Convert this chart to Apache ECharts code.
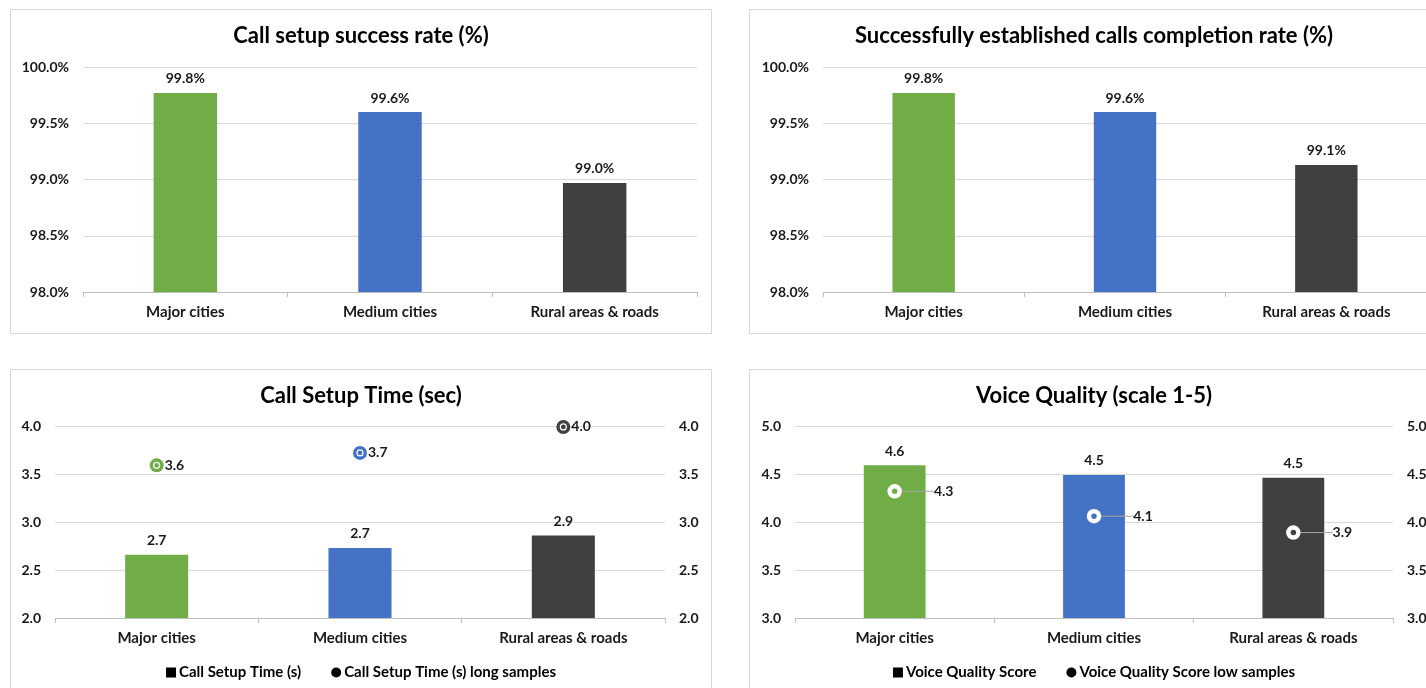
<!DOCTYPE html>
<html>
<head>
<meta charset="utf-8">
<script src="https://cdn.jsdelivr.net/npm/echarts@6/dist/echarts.min.js"></script>
<style>
  html, body { margin: 0; padding: 0; background: #fff; }
  body { width: 1426px; height: 688px; position: relative; overflow: hidden; }
  .panel { position: absolute; border: 1px solid #d9d9d9; box-sizing: border-box; background: #fff; }
  #p1 { left: 10px; top: 9px; width: 702px; height: 325px; }
  #p2 { left: 749px; top: 9px; width: 690px; height: 325px; }
  #p3 { left: 10px; top: 369px; width: 702px; height: 330px; }
  #p4 { left: 749px; top: 369px; width: 690px; height: 330px; }
</style>
</head>
<body>
<div id="p1" class="panel"></div>
<div id="p2" class="panel"></div>
<div id="p3" class="panel"></div>
<div id="p4" class="panel"></div>
<script>
// data
const categories = ['Major cities', 'Medium cities', 'Rural areas & roads']
const barColors = ['#70ad47', '#4472c4', '#404040']
const setupSuccess = [99.77, 99.6, 98.97]
const completionRate = [99.77, 99.6, 99.13]
const setupTime = [2.66, 2.73, 2.86]
const setupTimeLong = [3.59, 3.72, 3.99]
const voiceScore = [4.59, 4.49, 4.46]
const voiceLow = [4.32, 4.06, 3.89]

const FONT = 'Lato'
const txt = { fontFamily: FONT, fontWeight: 'bold', fontSize: 14, color: '#1a1a1a' }

function colored(values) {
  return values.map((v, i) => ({ value: v, itemStyle: { color: barColors[i], opacity: 1 } }))
}

function baseOption(title, grid) {
  return {
    animation: false,
    title: {
      text: title,
      left: 'center',
      top: 10,
      textStyle: { fontFamily: FONT, fontWeight: 'bold', fontSize: 22, color: '#000' }
    },
    grid: grid,
    xAxis: {
      type: 'category',
      data: categories,
      axisLine: { lineStyle: { color: '#bfbfbf' } },
      axisTick: { show: true, length: 5, lineStyle: { color: '#bfbfbf' } },
      axisLabel: Object.assign({}, txt, { margin: 13, fontSize: 15 })
    }
  }
}

function valueAxis(min, max, fmt, pos, grid) {
  return {
    type: 'value',
    position: pos,
    min: min,
    max: max,
    interval: 0.5,
    axisLine: { show: false },
    axisTick: { show: false },
    splitLine: { show: grid, lineStyle: { color: '#d9d9d9' } },
    axisLabel: Object.assign({ margin: 14, formatter: fmt }, txt)
  }
}

function pctChart(el, title, values, grid) {
  const chart = echarts.init(document.getElementById(el))
  const opt = baseOption(title, grid)
  opt.yAxis = valueAxis(98, 100, v => v.toFixed(1) + '%', 'left', true)
  opt.series = [{
    type: 'bar',
    barWidth: '31%',
    data: colored(values),
    label: Object.assign({ show: true, position: 'top', distance: 7, formatter: p => p.value.toFixed(1) + '%' }, txt)
  }]
  chart.setOption(opt)
  return chart
}

function legendBlock() {
  return {
    bottom: 13,
    left: 'center',
    itemWidth: 10,
    itemHeight: 10,
    itemGap: 30,
    textStyle: Object.assign({}, txt, { fontSize: 15, color: '#000', padding: [0, 0, 0, -2] })
  }
}

const c1 = pctChart('p1', 'Call setup success rate (%)', setupSuccess, { left: 72, right: 14, top: 57, bottom: 41 })
const c2 = pctChart('p2', 'Successfully established calls completion rate (%)', completionRate, { left: 73, right: 11, top: 57, bottom: 41 })

// Call setup time
const c3 = echarts.init(document.getElementById('p3'))
let o3 = baseOption('Call Setup Time (sec)', { left: 44, right: 46, top: 56, bottom: 80 })
o3.yAxis = [
  valueAxis(2, 4, v => v.toFixed(1), 'left', true),
  valueAxis(2, 4, v => v.toFixed(1), 'right', false)
]
o3.legend = Object.assign(legendBlock(), {
  data: [
    { name: 'Call Setup Time (s)', icon: 'rect' },
    { name: 'Call Setup Time (s) long samples', icon: 'circle' }
  ]
})
o3.series = [
  {
    name: 'Call Setup Time (s)',
    type: 'bar',
    barWidth: '31%',
    itemStyle: { color: '#000' },
    data: colored(setupTime),
    label: Object.assign({ show: true, position: 'top', distance: 7, formatter: p => p.value.toFixed(1) }, txt)
  },
  {
    name: 'Call Setup Time (s) long samples',
    type: 'scatter',
    symbol: 'circle',
    symbolSize: 14,
    itemStyle: { color: '#000', opacity: 1 },
    data: colored(setupTimeLong),
    label: Object.assign({ show: true, position: 'right', distance: 1, formatter: p => p.value.toFixed(1) }, txt),
    z: 3
  },
  {
    name: 'inner',
    type: 'scatter',
    symbol: 'circle',
    symbolSize: 6,
    silent: true,
    data: setupTimeLong.map((v, i) => ({ value: v, itemStyle: { color: barColors[i], opacity: 1, borderColor: '#fff', borderWidth: 1.2 } })),
    z: 4
  }
]
c3.setOption(o3)

// Voice quality
const c4 = echarts.init(document.getElementById('p4'))
let o4 = baseOption('Voice Quality (scale 1-5)', { left: 45, right: 45, top: 56, bottom: 80 })
o4.yAxis = [
  valueAxis(3, 5, v => v.toFixed(1), 'left', true),
  valueAxis(3, 5, v => v.toFixed(1), 'right', false)
]
o4.legend = Object.assign(legendBlock(), {
  left: 'center',
  data: [
    { name: 'Voice Quality Score', icon: 'rect' },
    { name: 'Voice Quality Score low samples', icon: 'circle' }
  ]
})
o4.series = [
  {
    name: 'Voice Quality Score',
    type: 'bar',
    barWidth: '31%',
    itemStyle: { color: '#000' },
    data: colored(voiceScore),
    label: Object.assign({ show: true, position: 'top', distance: 7, formatter: p => p.value.toFixed(1) }, txt)
  },
  {
    name: 'Voice Quality Score low samples',
    type: 'scatter',
    symbol: 'circle',
    symbolSize: 10,
    itemStyle: { color: '#000', opacity: 1 },
    data: voiceLow.map((v, i) => ({ value: v, itemStyle: { color: barColors[i], opacity: 1, borderColor: '#fff', borderWidth: 4.5 } })),
    label: Object.assign({ show: true, position: 'right', distance: 6, formatter: p => p.value.toFixed(1) }, txt),
    labelLayout: { dx: 26 },
    labelLine: { show: true, lineStyle: { color: '#a6a6a6', width: 1 } },
    z: 3
  }
]
c4.setOption(o4)
</script>
</body>
</html>
